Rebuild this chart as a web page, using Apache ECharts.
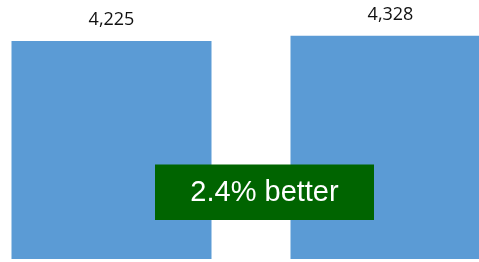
<!DOCTYPE html>
<html>
<head>
<meta charset="utf-8">
<script src="https://cdn.jsdelivr.net/npm/echarts@6/dist/echarts.min.js"></script>
<style>
  html, body { margin: 0; padding: 0; background: #fff; overflow: hidden; }
  /* the bars run past the window edges, so the chart is wider than the page and shifted left */
  #chart { position: absolute; left: -28px; top: 0; width: 558px; height: 262px; }
</style>
</head>
<body>
<div id="chart"></div>
<script>
// two runs being compared
let categories = ["Before", "After"]
let values = [4225, 4328]

// percent change shown in the green box
let change = (values[1] - values[0]) / values[0] * 100
let changeText = change.toFixed(1) + "% better"

let myChart = echarts.init(document.getElementById("chart"))
let option = {
  animation: false,
  grid: {
    left: 0,
    right: 0,
    top: 1,
    bottom: 3
  },
  xAxis: {
    type: "category",
    data: categories,
    show: false
  },
  yAxis: {
    type: "value",
    min: 0,
    max: 5000,
    show: false
  },
  series: [
    {
      type: "bar",
      data: values,
      barWidth: 200,
      itemStyle: {
        color: "#5B9BD5"
      },
      label: {
        show: true,
        position: "top",
        distance: 12,
        color: "#111",
        fontSize: 18,
        fontFamily: "Open Sans",
        formatter: function (p) {
          return p.value.toLocaleString("en-US")
        }
      }
    }
  ],
  // green callout drawn on its own layer above the bars
  graphic: [
    {
      type: "rect",
      zlevel: 1,
      shape: { x: 183, y: 164.5, width: 219, height: 55.5 },
      style: { fill: "#006400" }
    },
    {
      type: "text",
      zlevel: 1,
      z: 10,
      x: 292.5,
      y: 192.5,
      style: {
        text: changeText,
        fill: "#fff",
        fontSize: 29,
        fontFamily: "Liberation Sans",
        align: "center",
        verticalAlign: "middle"
      }
    }
  ]
}
myChart.setOption(option)
</script>
</body>
</html>
